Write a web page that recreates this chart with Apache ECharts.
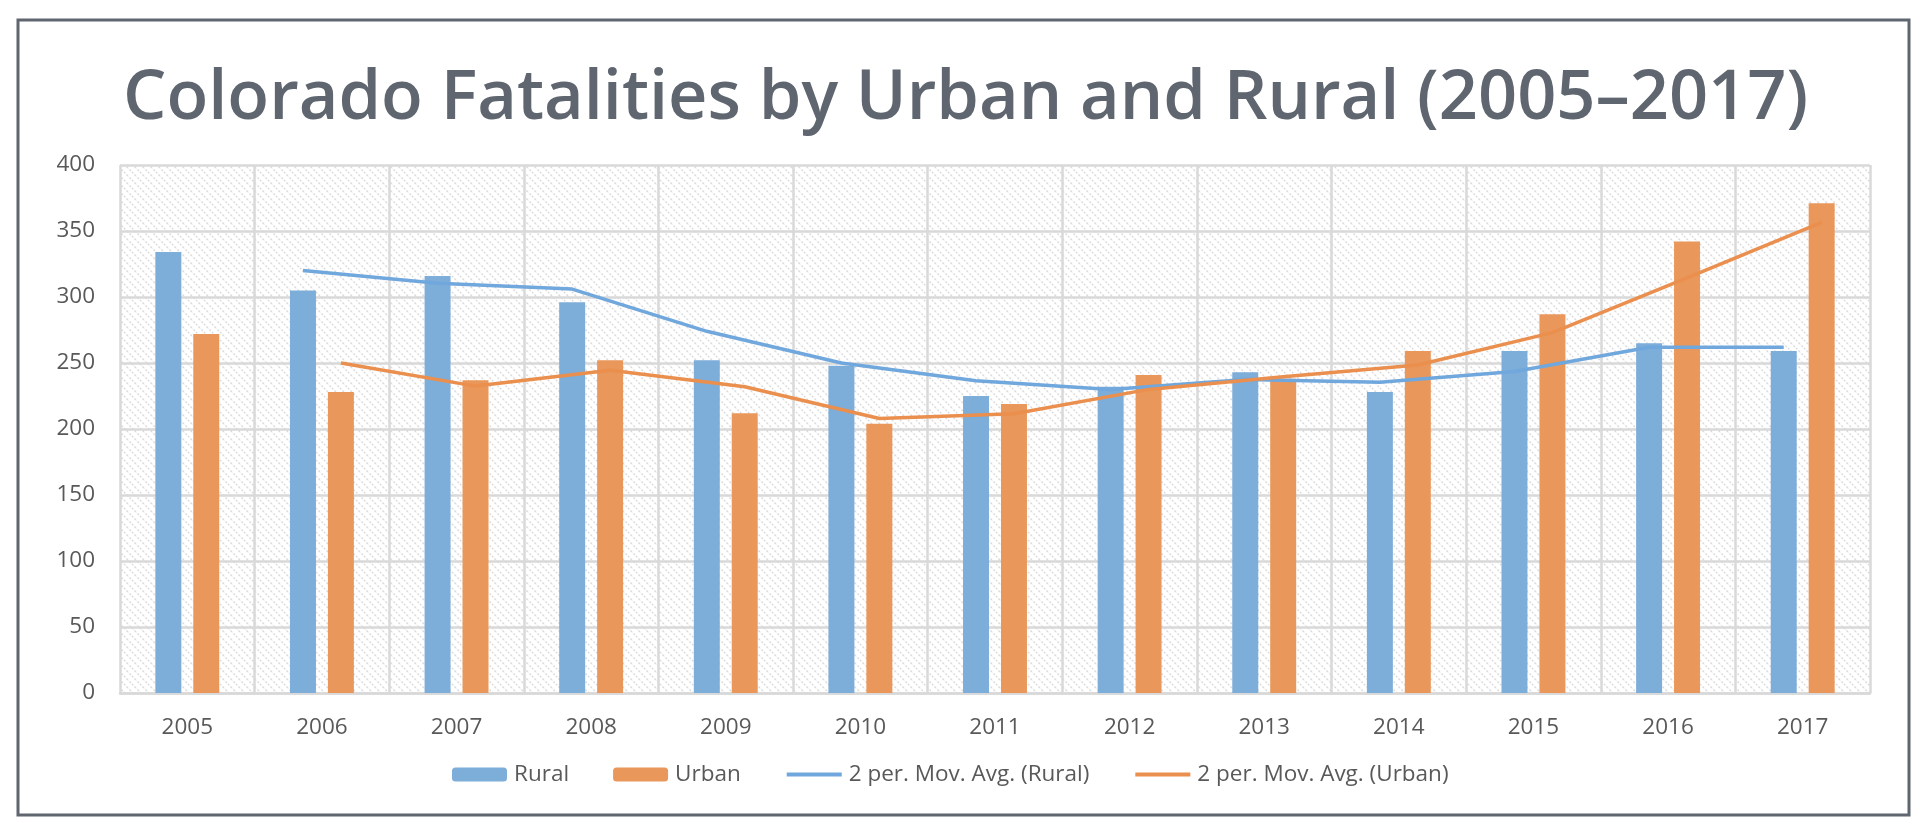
<!DOCTYPE html>
<html>
<head>
<meta charset="utf-8">
<script src="https://cdn.jsdelivr.net/npm/echarts@6/dist/echarts.min.js"></script>
<style>
html,body{margin:0;padding:0;background:#fff;}
#main{width:1922px;height:832px;}
</style>
</head>
<body>
<div id="main"></div>
<script>
// ---- data ----
const years = ['2005','2006','2007','2008','2009','2010','2011','2012','2013','2014','2015','2016','2017'];
const rural = [334, 305, 316, 296, 252, 248, 225, 232, 243, 228, 259, 265, 259];
const urban = [272, 228, 237, 252, 212, 204, 219, 241, 238, 259, 287, 342, 371];
const ruralMovAvg = [null, 320, 310.5, 306, 274, 250, 236.5, 230, 237.5, 235.5, 243.5, 262, 262];
const urbanMovAvg = [null, 250, 232.5, 244.5, 232, 208, 211.5, 230, 239.5, 248.5, 273, 314.5, 356.5];
const yTicks = [0, 50, 100, 150, 200, 250, 300, 350, 400];
const seriesNames = ['Rural', 'Urban', '2 per. Mov. Avg. (Rural)', '2 per. Mov. Avg. (Urban)'];

// ---- layout constants ----
const BAR_W = 0.193;   // fraction of category band
const BAR_GAP = 0.46;  // fraction of bar width
const offset = BAR_W * (1 + BAR_GAP) / 2; // bar centre offset in category units

// hatch pattern for plot background
const pat = document.createElement('canvas');
pat.width = 8; pat.height = 8;
const pc = pat.getContext('2d');
pc.fillStyle = '#ffffff'; pc.fillRect(0,0,8,8);
pc.strokeStyle = '#dadada'; pc.lineWidth = 1.4;
pc.setLineDash([2, 1.5]);
pc.beginPath();
pc.moveTo(-1,-1); pc.lineTo(9,9);
pc.moveTo(-5,3); pc.lineTo(1,9);
pc.moveTo(3,-5); pc.lineTo(9,1);
pc.stroke();

const chart = echarts.init(document.getElementById('main'));
const grey = '#d9d9d9';
const labelFont = { fontFamily: 'Open Sans', fontSize: 22.5, color: '#595959' };
const option = {
  animation: false,
  backgroundColor: '#ffffff',
  title: {
    text: 'Colorado Fatalities by Urban and Rural (2005\u20132017)',
    left: 118, top: 60,
    textStyle: { fontFamily: 'Open Sans', fontWeight: 600, fontSize: 68.5, color: '#5f6670' }
  },
  graphic: [{
    type: 'rect', shape: { x: 18, y: 20, width: 1891, height: 795 },
    style: { fill: 'none', stroke: '#5f6670', lineWidth: 3 }, silent: true, z: 100
  }],
  legend: {
    left: 447, top: 758,
    itemWidth: 55, itemHeight: 14, itemGap: 44,
    textStyle: Object.assign({ padding: [0,0,0,2] }, labelFont),
    data: [
      { name: seriesNames[0] },
      { name: seriesNames[1] },
      { name: seriesNames[2], itemStyle: { opacity: 0 }, lineStyle: { width: 4 } },
      { name: seriesNames[3], itemStyle: { opacity: 0 }, lineStyle: { width: 4 } }
    ]
  },
  grid: {
    left: 120, right: 52, top: 165, bottom: 139,
    show: true, borderWidth: 0,
    backgroundColor: { image: pat, repeat: 'repeat' }
  },
  xAxis: [{
    type: 'category', data: years, boundaryGap: true,
    axisLine: { lineStyle: { color: grey, width: 2.5 } },
    axisTick: { show: false },
    splitLine: { show: true, lineStyle: { color: grey, width: 2.5 } },
    axisLabel: Object.assign({ margin: 23 }, labelFont)
  }, {
    type: 'value', min: -0.5, max: years.length - 0.5, show: false
  }],
  yAxis: {
    type: 'value', min: yTicks[0], max: yTicks[yTicks.length-1], interval: yTicks[1]-yTicks[0],
    axisLine: { show: false }, axisTick: { show: false },
    splitLine: { lineStyle: { color: grey, width: 2.5 } },
    axisLabel: Object.assign({ margin: 25 }, labelFont)
  },
  series: [
    { name: seriesNames[0], type: 'bar', data: rural, barWidth: (BAR_W*100)+'%', barGap: (BAR_GAP*100)+'%',
      itemStyle: { color: '#7dadd9' } },
    { name: seriesNames[1], type: 'bar', data: urban, barWidth: (BAR_W*100)+'%', barGap: (BAR_GAP*100)+'%',
      itemStyle: { color: '#e9975a' } },
    { name: seriesNames[2], type: 'line', xAxisIndex: 1, showSymbol: false, symbol: 'none', z: 5,
      data: ruralMovAvg.map((v,i) => v == null ? null : [i - offset, v]).filter(d => d),
      lineStyle: { color: '#70a7dc', width: 3.5 }, itemStyle: { color: '#70a7dc' } },
    { name: seriesNames[3], type: 'line', xAxisIndex: 1, showSymbol: false, symbol: 'none', z: 5,
      data: urbanMovAvg.map((v,i) => v == null ? null : [i + offset, v]).filter(d => d),
      lineStyle: { color: '#ea8f4e', width: 3.5 }, itemStyle: { color: '#ea8f4e' } }
  ]
};
chart.setOption(option);
</script>
</body>
</html>
